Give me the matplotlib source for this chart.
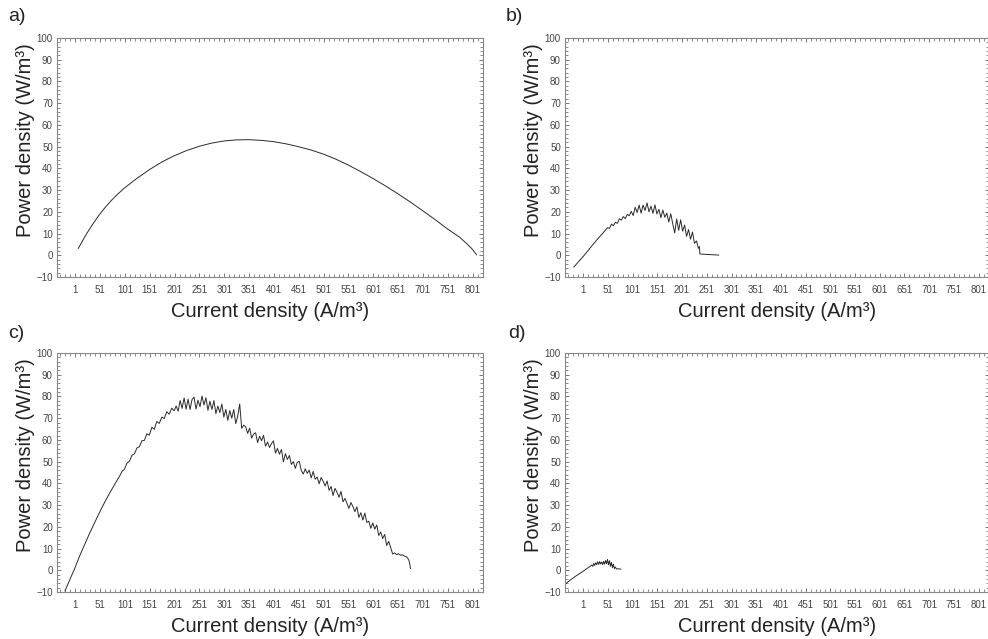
import numpy as np
import matplotlib
matplotlib.use("Agg")
import matplotlib.pyplot as plt
from matplotlib.ticker import FixedLocator

plt.rcParams['font.family'] = ['Liberation Sans', 'DejaVu Sans']

# ---------------- data ----------------
x_tick_values = [1, 51, 101, 151, 201, 251, 301, 351, 401, 451, 501, 551, 601, 651, 701, 751, 801]
x_tick_labels = [str(v) for v in x_tick_values]
y_tick_values = [-10, 0, 10, 20, 30, 40, 50, 60, 70, 80, 90, 100]

# panel a
a_x = [7, 15, 25, 35, 49, 62, 75, 88, 100, 125, 150, 175, 200, 225, 250, 275, 300, 325, 350,
       375, 400, 425, 450, 475, 500, 525, 550, 575, 600, 625, 650, 675, 700, 725, 750, 775,
       790, 800, 809]
a_y = [3.2, 6.5, 10.4, 14.0, 18.6, 22.3, 25.6, 28.5, 31.0, 35.4, 39.4, 42.9, 45.8, 48.2, 50.1,
       51.6, 52.6, 53.1, 53.2, 52.9, 52.3, 51.3, 50.0, 48.5, 46.6, 44.3, 41.6, 38.6, 35.4,
       32.0, 28.4, 24.6, 20.6, 16.5, 12.2, 8.3, 5.2, 2.9, 0.3]

# panel b
b_x = [-18, -10, 0, 10, 20, 30, 40,
       50, 54, 58, 62, 66, 70, 74, 78, 82, 86, 90, 94, 98, 102, 106, 110, 114, 118, 122, 126,
       130, 134, 138, 142, 146, 150, 154, 158, 162, 166, 170, 174, 178, 182, 186, 190, 194,
       198, 202, 206, 210, 214, 218, 222, 226, 230, 234, 236, 237, 250, 275]
b_y = [-5.4, -3.3, -0.8, 2.0, 4.8, 7.5, 10.0,
       12.7, 12.4, 14.3, 13.6, 15.2, 14.7, 16.8, 16.2, 17.8, 16.9, 18.8, 18.2, 20.2, 18.3, 22.1,
       19.7, 23.1, 19.4, 23.1, 20.6, 24.1, 20.0, 22.6, 19.3, 23.2, 19.0, 21.2, 17.3, 20.8, 17.5,
       19.4, 15.3, 19.1, 14.5, 10.3, 16.7, 11.5, 16.3, 11.1, 13.9, 8.7, 11.8, 7.4, 10.7, 5.5,
       6.6, 3.2, 4.0, 0.6, 0.4, 0.1]

# panel c
c_x = [-20, -10, 0, 10, 20, 30, 40, 50, 60, 70, 80, 90,
       95, 100, 105, 110, 115, 120, 125, 130, 135, 140, 145, 150, 155, 160, 165, 170, 175,
       180, 185, 190, 195, 200,
       204, 208, 212, 216, 220, 224, 228, 232, 236, 240, 244, 248, 252, 256, 260, 264, 268,
       272, 276, 280, 284, 288, 292, 296, 300, 304, 308, 312, 316, 320, 324, 328, 332, 336, 340,
       344, 348, 352, 356, 360, 364, 368, 372, 376, 380, 384, 388, 392, 396, 400, 404, 408,
       412, 416, 420, 424, 428, 432, 436, 440, 444, 448, 452, 456, 460, 464, 468, 472, 476,
       480, 484, 488, 492, 496, 500, 504, 508, 512, 516, 520, 524, 528, 532, 536, 540, 544,
       548, 552, 556, 560, 564, 568, 572, 576, 580, 584, 588, 592, 596, 600, 604, 608, 612,
       616, 620, 624, 628, 632, 636,
       640, 644, 648, 652, 656, 660, 664, 668, 672, 674, 676]
c_y = [-9.5, -4.3, 1.0, 6.8, 12.0, 17.2, 22.0, 26.8, 31.3, 35.5, 39.5, 43.3,
       45.5, 46.6, 49.3, 50.2, 52.9, 53.6, 56.3, 56.9, 59.6, 59.8, 62.8, 62.2, 65.8, 64.9,
       68.5, 67.6, 70.5, 69.8, 73.0, 71.8, 74.6, 73.4,
       75.6, 73.2, 78.1, 74.5, 79.3, 74.1, 78.8, 74.0, 78.6, 79.7, 74.2, 78.3, 75.3, 80.2,
       76.1, 79.4, 73.6, 77.8, 74.0, 78.1, 72.1, 75.6, 72.6, 76.5, 70.5, 74.0, 69.0, 73.5,
       70.0, 74.0, 67.5, 71.0, 76.5, 65.3, 66.8,
       66.0, 63.0, 65.4, 60.8, 62.7, 63.3, 58.8, 61.7, 59.6, 62.1, 57.1, 59.0, 56.5, 58.3,
       59.6, 53.9, 56.1, 53.4, 55.6, 49.9, 53.7, 51.0, 52.8, 48.7, 50.0, 46.9, 49.7, 50.1,
       45.9, 44.3, 46.7, 44.6, 46.1, 42.5, 45.5, 41.9, 42.9, 39.8, 42.7, 41.0, 38.8, 41.1,
       36.8, 38.6, 34.4, 37.7, 35.9, 33.6, 36.3, 31.5, 33.1, 30.8, 28.5, 31.2, 29.3, 27.0,
       29.2, 24.3, 26.5, 23.1, 26.3, 22.0, 22.6, 19.3, 21.8, 18.9, 20.9, 16.0, 17.6, 14.6,
       16.5, 11.4, 13.3, 10.5,
       7.5, 8.0, 7.2, 7.6, 6.9, 7.1, 6.5, 6.2, 5.0, 3.5, 0.8]

# panel d
d_x = [-33, -27, -21, -15, -9, -3, 3, 9, 15,
       18, 20, 22, 24, 26, 28, 30, 32, 34, 36, 38, 40, 42, 44, 46, 48, 50, 52, 54, 56, 58,
       60, 62, 64, 66, 68, 72, 77]
d_y = [-5.9, -4.8, -3.8, -2.8, -1.9, -1.0, -0.1, 0.9, 1.8,
       2.4, 1.8, 3.1, 2.2, 3.4, 2.6, 3.9, 2.7, 4.0, 2.9, 3.8, 2.6, 4.1, 2.8, 4.5, 3.0, 5.0,
       2.5, 4.4, 1.8, 3.6, 1.2, 2.8, 0.8, 1.5, 0.6, 0.7, 0.5]

panels = [
    ("a)", a_x, a_y),
    ("b)", b_x, b_y),
    ("c)", c_x, c_y),
    ("d)", d_x, d_y),
]

# ---------------- layout ----------------
W, H = 988, 639
fig = plt.figure(figsize=(W / 100, H / 100), dpi=100)

rects = [
    (57, 38, 426, 239),
    (565, 38, 424, 239),
    (57, 353, 426, 239),
    (565, 353, 424, 239),
]
label_pos = [(8, 8), (506, 8), (8, 325), (508, 325)]

minor_x = list(range(-29, 822, 10))
minor_y = list(range(-10, 101, 2))

for (lab, xs, ys), (l, t, w, h), (lx, ly) in zip(panels, rects, label_pos):
    ax = fig.add_axes([l / W, 1 - (t + h) / H, w / W, h / H])
    ax.plot(xs, ys, color='#2a2a2a', lw=0.7)
    ax.set_xlim(-36, 822)
    ax.set_ylim(-10, 100)
    ax.set_xticks(x_tick_values)
    ax.set_xticklabels(x_tick_labels)
    ax.set_yticks(y_tick_values)
    ax.xaxis.set_minor_locator(FixedLocator(minor_x))
    ax.yaxis.set_minor_locator(FixedLocator(minor_y))
    ax.tick_params(which='both', direction='in', top=True, right=True,
                   color='#777777', labelsize=7, labelcolor='#444444', pad=3)
    ax.tick_params(which='major', length=3, width=0.7)
    ax.tick_params(which='minor', length=2, width=0.6)
    ax.tick_params(axis='x', which='major', pad=6)
    for s in ax.spines.values():
        s.set_color('#888888')
        s.set_linewidth(0.8)
    ax.set_xlabel('Current density (A/m³)', fontsize=14.5, color='#222222', labelpad=5)
    ax.set_ylabel('Power density (W/m³)', fontsize=14.5, color='#222222')
    ax.yaxis.set_label_coords(-0.052 * 426 / w, 0.573)
    fig.text(lx / W, 1 - ly / H, lab, fontsize=14, color='#222222', va='top', ha='left')

fig.savefig('out.png', dpi=100)
